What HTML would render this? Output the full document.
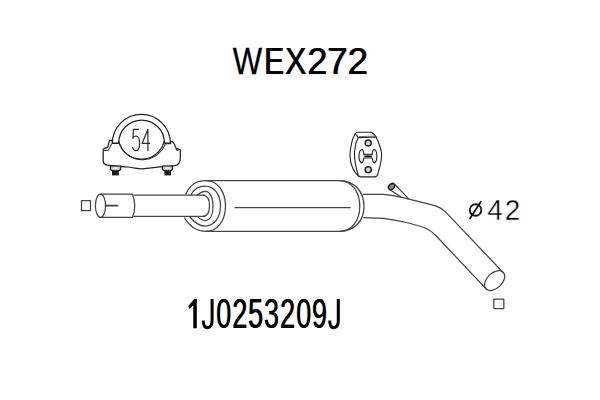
<!DOCTYPE html>
<html><head><meta charset="utf-8">
<style>
html,body{margin:0;padding:0;background:#fff;width:600px;height:400px;overflow:hidden}
svg{display:block}
text{font-family:"Liberation Sans",sans-serif}
</style></head>
<body>
<svg width="600" height="400" viewBox="0 0 600 400">
<rect width="600" height="400" fill="#fff"/>
<!-- Title -->
<g id="ttl" transform="translate(-0.4 0.85)">
<text transform="translate(264.25 73.4) scale(0.800 1)" font-size="37" fill="#000">E</text>
<text transform="translate(285.06 73.4) scale(0.860 1)" font-size="37" fill="#000">X</text>
<text transform="translate(307.37 73.4) scale(0.975 1)" font-size="37" fill="#000">2</text>
<text transform="translate(327.09 73.4) scale(1.000 1)" font-size="37" fill="#000">7</text>
<text transform="translate(347.56 73.4) scale(0.995 1)" font-size="37" fill="#000">2</text>
</g>
<use href="#ttl" x="0.8"/>
<text transform="translate(232.87 74.25) scale(0.840 1)" font-size="37" fill="#000" stroke="#000" stroke-width="0.3">W</text>
<!-- Part number -->
<g id="pn" transform="translate(-0.3 0)">
<text transform="translate(216.18 328) scale(0.640 1)" font-size="42" fill="#000">0</text>
<text transform="translate(232.38 328) scale(0.640 1)" font-size="42" fill="#000">2</text>
<text transform="translate(248.10 328) scale(0.640 1)" font-size="42" fill="#000">5</text>
<text transform="translate(264.00 328) scale(0.640 1)" font-size="42" fill="#000">3</text>
<text transform="translate(280.08 328) scale(0.640 1)" font-size="42" fill="#000">2</text>
<text transform="translate(296.28 328) scale(0.640 1)" font-size="42" fill="#000">0</text>
<text transform="translate(312.03 328) scale(0.640 1)" font-size="42" fill="#000">9</text>
</g>
<use href="#pn" x="0.6"/>

<path d="M196.8 298.8 V328.2 H193.3 V305.2 L189.4 308.9 L188.3 305.9 L194.3 298.8 Z" fill="#000"/>
<path d="M212.1 299 V320.3 Q212.1 327.7 207.3 327.7 Q203.4 327.7 203.3 320.5" fill="none" stroke="#000" stroke-width="3"/>
<path d="M338.3 299 V320.3 Q338.3 327.7 333.6 327.7 Q329.8 327.7 329.7 320.5" fill="none" stroke="#000" stroke-width="3"/>
<g fill="none" stroke="#444" stroke-width="1.25" stroke-linejoin="round" stroke-linecap="round">
  <!-- left square -->
  <rect x="81.5" y="200.5" width="9" height="10"/>
  <!-- inlet pipe end -->
  <ellipse cx="100.5" cy="205.8" rx="5.1" ry="11.6"/>
  <path d="M100.5 194.2 H132.5 Q137 205.8 132.5 217.4 H100.5"/>
  <path d="M105.5 205.7 H117.5" stroke-width="1.8"/>
  <!-- inlet pipe -->
  <path d="M134 195.2 H205 M134 216.3 H205"/>
  <!-- muffler rings -->
  <path d="M186 194 C190 184 198 180.6 206 180.6 C218 180.6 225.5 192 225.5 206 C225.5 220 218 231.3 206 231.3 C198 231.3 190 227 184.5 218"/>
  <path d="M191 194.8 C194 189 199 186 205 186 C214.5 186 220.5 195 220.5 206 C220.5 217 214.5 226 205 226 C199 226 194 222 190 217"/>
  <path d="M197.5 195 C200 192.5 202.5 191.3 205 191.3 C210.5 191.3 213 198 213 206 C213 214 210.5 220.5 205 220.5 C202.5 220.5 200 219 197.5 216.6"/>
  <path d="M203 195.3 C207.5 195.3 209.5 200 209.5 205.8 C209.5 211.5 207.5 216.3 203 216.3"/>
  <!-- muffler body -->
  <path d="M206 180.6 H340 C352 180.8 359.8 192 359.8 206.5 C359.8 220 352 230.8 340 231.3 H206"/>
  <path d="M340 180.6 C355 181 364 192 364 206.5 C364 220.5 355 230.8 340 231.3" stroke-width="1.3"/>
  <path d="M235 207.5 H350"/>
  <!-- outlet pipe -->
  <path d="M363.8 194.4 H383 C390 195 400 197 410 199.3 L432 204.9 Q441 207.2 446 212.4 L503.3 272.7"/>
  <path d="M363.8 217.6 L384 218.4 C392 219.5 400 221 407.5 222.75 L421 226.5 Q429.6 229 436 235.8 L485.9 288.6"/>
  <ellipse cx="494.6" cy="280.6" rx="12" ry="7.6" transform="rotate(-43.5 494.6 280.6)"/>
  <!-- pin -->
  <path d="M389.4 189.3 L401 197 M394.6 184.2 L408.5 198.6"/>
  <ellipse cx="391.6" cy="186.6" rx="3.5" ry="2.6" transform="rotate(-42 391.6 186.6)" fill="#888" stroke="#222" stroke-width="1.5"/>
  <!-- right square -->
  <rect x="493.8" y="299" width="10" height="9.5"/>
  <!-- diameter sign -->
  <circle cx="475.6" cy="210" r="5.75" stroke="#111" stroke-width="1.8"/>
  <path d="M469.6 219 L481.1 201.2" stroke="#111" stroke-width="1.7" stroke-linecap="butt"/>
</g>
<g stroke="#fff" stroke-width="0.4" fill="#000"><text transform="translate(487.2 219.8) scale(0.93 1)" font-size="30">4</text>
<text transform="translate(504.77 219.8) scale(0.93 1)" font-size="30">2</text></g>

<!-- Clamp -->
<g fill="none" stroke="#222" stroke-width="1.25" stroke-linejoin="round">
  <path d="M112.3 143.3 V143.4 A29.05 29.05 0 0 1 170.4 143.4 V143.3"/>
  <path d="M118.75 143.3 V142.85 A22.85 22.85 0 0 1 164.45 142.85 V143.3"/>
  <path d="M118.75 141.3 A23.4 23.4 0 0 0 164.2 141.3"/>
  <path d="M119.3 143.6 A24.6 24.6 0 0 0 165.6 143.6" stroke-width="1"/>
  <path d="M112.3 143.3 H118.75 M164.45 143.4 H170.4" stroke-width="1.6"/>
  <path d="M112.4 142 L112.2 140.4 L109.5 140.3 L107.6 147.4 L104.8 148.2 L103.2 149.3 V160.9 Q103.4 164.6 107.5 165.2 C114 166.3 121 166.4 128 167 C134 167.6 138 168.8 141.5 168.8 C145 168.8 150 167.8 157.5 167.1 C164 166.5 170 166.6 175 165.6 Q180.3 164.4 180.3 158.5 V149.6 L178.6 149.3 L176.3 148.8 L175.2 146.5 L174.6 144.6 L172.4 141.7 L170.4 141.2"/>
  <path d="M111.8 143.4 L108.3 150.3 L104.2 150.5 L103.3 151" stroke-width="1"/>
  <circle cx="177.4" cy="149.5" r="1.1" stroke-width="1"/>
</g>
<!-- clamp nuts -->
<g>
  <path d="M110.3 166 H120.8 V169 Q120.3 171 115.5 171 Q110.8 171 110.3 169 Z" fill="#bbb" stroke="#111" stroke-width="1.1"/>
  <ellipse cx="115.5" cy="168.2" rx="3" ry="1.1" fill="#eee"/>
  <rect x="112" y="170.6" width="6.8" height="4.8" fill="#1a1a1a"/>
  <path d="M162.4 166 H172.6 V169 Q172.1 171 167.5 171 Q162.9 171 162.4 169 Z" fill="#bbb" stroke="#111" stroke-width="1.1"/>
  <ellipse cx="167.5" cy="168.2" rx="3" ry="1.1" fill="#eee"/>
  <rect x="164.4" y="170.6" width="6.6" height="4.8" fill="#1a1a1a"/>
</g>
<!-- 54 -->
<g fill="none" stroke="#2a2a2a" stroke-width="1.2" stroke-linejoin="round">
  <path d="M138.9 129.3 H133.4 L132.9 138.3 Q134 136 136 136 Q139.6 136.3 139.6 143.3 Q139.6 150.7 136 150.7 Q133.2 150.7 132.5 146.8"/>
  <path d="M147.9 150.9 V129.3 L142.1 143.4 H150.2"/>
</g>

<!-- Hanger -->
<g fill="none" stroke="#222" stroke-width="1.1" stroke-linejoin="round">
  <path d="M358.2 137.6 L376.2 137 L379.2 144.2 Q381.6 151 381.6 155 Q381.6 160 380.3 164.6 L377.8 174 Q377.2 176.9 374.6 176.9 H361 Q358.3 176.9 357.6 173.2 L355.5 164.6 Q354.2 158 354.5 152 L355.8 143.5 Z"/>
  <path d="M358.2 137.6 L355.2 133.7 Q356 132.2 357.6 132.2 H371.4 L374.6 134.7 L376.2 137"/>
  <path d="M355.2 133.7 Q353 137 351.6 143 L350.3 150.5 Q349.6 157 350.5 161 L351.6 165 Q353.2 170 355.1 172.3 L359 176.6"/>
  <path d="M358.5 136.6 L375.6 136.1" stroke-width="0.8" stroke="#555"/>
  <circle cx="368.2" cy="143.1" r="3" fill="#d8d8d8" stroke-width="1.5"/>
  <circle cx="368.25" cy="169.8" r="3" fill="#d8d8d8" stroke-width="1.5"/>
  <path d="M361.6 149.4 Q359 150.5 358.9 156 Q359 161.5 361.6 163 Q363.4 162.3 363.6 158.2 L364.2 158 H371.8 L372.4 158.2 Q372.6 162.3 374.4 163 Q376.9 161.5 376.9 156 Q376.9 150.5 374.4 149.4 Q372.4 149.7 372.2 154.4 H363.8 Q363.6 149.7 361.6 149.4 Z" fill="#f4f4f4" stroke-width="1.1"/>
  <path d="M363.8 156.4 H372.2" stroke="#bbb" stroke-width="3.2"/><path d="M364.5 156.6 Q368 156.2 371.8 156.6" stroke="#111" stroke-width="1.8"/>
</g>
</svg>
</body></html>
